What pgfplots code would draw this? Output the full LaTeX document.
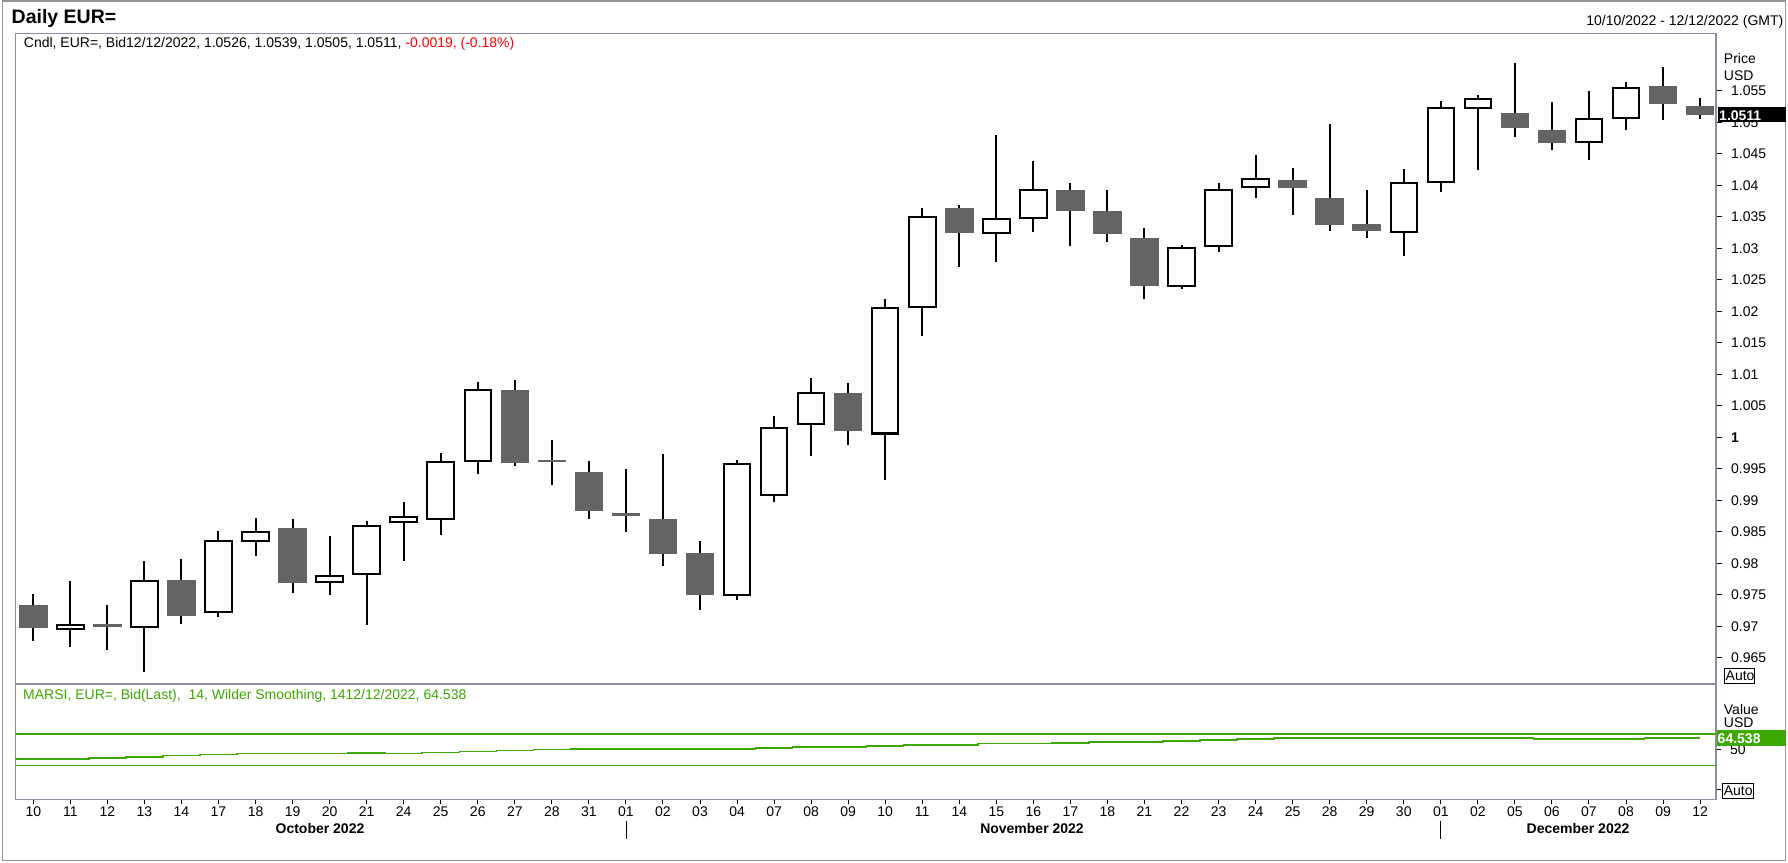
\documentclass[border=0pt]{standalone}
\usepackage{fontspec}
\setmainfont{Liberation Sans}
\usepackage{pgfplots}
\pgfplotsset{compat=1.18}
\usepackage{pgfplotstable}

\definecolor{panecol}{RGB}{140,140,160}
\definecolor{candlegray}{RGB}{100,100,100}
\definecolor{rsigreen}{RGB}{60,168,0}
\definecolor{framegray}{RGB}{150,150,150}

\pgfplotstableread{
i O H L C
1 0.9695 0.9771 0.9667 0.9702
3 0.9699 0.9803 0.9628 0.9771
5 0.9722 0.9852 0.9714 0.9836
6 0.9836 0.9872 0.9811 0.9850
8 0.9771 0.9843 0.9750 0.9780
9 0.9783 0.9867 0.9702 0.9859
10 0.9865 0.9897 0.9803 0.9874
11 0.9870 0.9975 0.9845 0.9961
12 0.9963 1.0088 0.9941 1.0075
19 0.9749 0.9964 0.9742 0.9957
20 0.9908 1.0033 0.9897 1.0015
21 1.0021 1.0094 0.9970 1.0070
23 1.0006 1.0220 0.9932 1.0205
24 1.0207 1.0364 1.0160 1.0350
26 1.0325 1.0479 1.0278 1.0346
27 1.0348 1.0439 1.0326 1.0392
31 1.0240 1.0305 1.0236 1.0301
32 1.0303 1.0404 1.0294 1.0393
33 1.0397 1.0448 1.0379 1.0410
37 1.0326 1.0426 1.0288 1.0404
38 1.0405 1.0534 1.0390 1.0522
39 1.0522 1.0544 1.0424 1.0537
42 1.0468 1.0550 1.0440 1.0505
43 1.0507 1.0564 1.0487 1.0555
}\upcandles

\pgfplotstableread{
i O H L C
0 0.9733 0.9751 0.9677 0.9697
2 0.9703 0.9733 0.9662 0.9700
4 0.9774 0.9807 0.9703 0.9717
7 0.9856 0.9870 0.9752 0.9769
13 1.0075 1.0091 0.9955 0.9959
14 0.9964 0.9995 0.9925 0.9961
15 0.9945 0.9963 0.9870 0.9883
16 0.9879 0.9950 0.9849 0.9876
17 0.9870 0.9973 0.9796 0.9814
18 0.9816 0.9836 0.9726 0.9749
22 1.0071 1.0086 0.9988 1.0010
25 1.0364 1.0368 1.0270 1.0325
28 1.0392 1.0404 1.0303 1.0359
29 1.0359 1.0393 1.0310 1.0323
30 1.0316 1.0332 1.0220 1.0240
34 1.0408 1.0428 1.0352 1.0395
35 1.0379 1.0497 1.0328 1.0337
36 1.0339 1.0393 1.0317 1.0328
40 1.0515 1.0594 1.0477 1.0490
41 1.0488 1.0532 1.0456 1.0467
44 1.0557 1.0587 1.0504 1.0529
45 1.0526 1.0539 1.0505 1.0511
}\downcandles

\pgfplotstableread{
x v
-0.5 38.5
0.5 38.5
1.5 39.7
2.5 41.0
3.5 42.6
4.5 43.9
5.5 45.1
6.5 45.1
7.5 45.1
8.5 46.0
9.5 45.1
10.5 46.4
11.5 47.7
12.5 48.9
13.5 50.2
14.5 51.2
15.5 51.2
16.5 51.2
17.5 51.2
18.5 51.2
19.5 52.3
20.5 53.6
21.5 53.6
22.5 54.6
23.5 56.1
24.5 56.1
25.5 57.8
26.5 57.8
27.5 58.6
28.5 59.9
29.5 59.9
30.5 61.0
31.5 62.5
32.5 63.7
33.5 65.0
34.5 65.0
35.5 65.0
36.5 65.0
37.5 65.0
38.5 65.0
39.5 65.0
40.5 63.7
41.5 63.7
42.5 63.7
43.5 64.9
44.5 64.538
45 64.538
}\rsidata

\pgfplotsset{
  candle/.style 2 args={draw=none, no markers, forget plot,
    /pgfplots/error bars/y dir=both,
    /pgfplots/error bars/y explicit,
    /pgfplots/error bars/error mark=none,
    /pgfplots/error bars/error bar style={draw=#1, line width=#2}},
}

\begin{document}
\begin{tikzpicture}[x=1pt,y=1pt,font=\fontsize{14}{16}\selectfont]
\path[use as bounding box] (0,0) rectangle (1788,862);
\fill[white] (0,0) rectangle (1788,862);
\draw[framegray, line width=1.5pt] (2.5,1.5) rectangle (1785.5,861);

% ---------- price pane ----------
\begin{axis}[
  at={(15.3pt,178pt)}, anchor=south west,
  scale only axis, width=1700.7pt, height=650.7pt,
  xmin=-0.486, xmax=45.43, ymin=0.96083, ymax=1.06411,
  axis line style={panecol, line width=1.5pt},
  xtick=\empty,
  ytick={0.965,0.97,0.975,0.98,0.985,0.99,0.995,1,1.005,1.01,1.015,1.02,1.025,1.03,1.035,1.04,1.045,1.05,1.055},
  yticklabels={0.965,0.97,0.975,0.98,0.985,0.99,0.995,\textbf{1},1.005,1.01,1.015,1.02,1.025,1.03,1.035,1.04,1.045,1.05,1.055},
  ytick pos=right, yticklabel pos=right,
  tick align=outside, major tick length=6pt,
  tick style={black, line width=1pt},
  yticklabel style={font=\fontsize{14}{16}\selectfont, anchor=west, inner sep=0pt, xshift=9pt},
]
% wicks
\addplot[candle={black}{2pt}]
  table[x=i, y expr={(\thisrow{H}+\thisrow{L})/2}, y error expr={(\thisrow{H}-\thisrow{L})/2}] {\upcandles};
\addplot[candle={black}{2pt}]
  table[x=i, y expr={(\thisrow{H}+\thisrow{L})/2}, y error expr={(\thisrow{H}-\thisrow{L})/2}] {\downcandles};
% down bodies
\addplot[candle={candlegray}{28.5pt}]
  table[x=i, y expr={(\thisrow{O}+\thisrow{C})/2}, y error expr={max(abs(\thisrow{O}-\thisrow{C})/2,0.0002)}] {\downcandles};
% up bodies: outline then white inside
\addplot[candle={black}{28.5pt}]
  table[x=i, y expr={(\thisrow{O}+\thisrow{C})/2}, y error expr={(\thisrow{C}-\thisrow{O})/2+0.00016}] {\upcandles};
\addplot[candle={white}{24.5pt}]
  table[x=i, y expr={(\thisrow{O}+\thisrow{C})/2}, y error expr={max((\thisrow{C}-\thisrow{O})/2-0.00016,0)}] {\upcandles};
\end{axis}

% ---------- RSI pane ----------
\begin{axis}[
  at={(15.3pt,62.5pt)}, anchor=south west,
  scale only axis, width=1700.7pt, height=115.8pt,
  xmin=-0.486, xmax=45.43, ymin=-12.9, ymax=133.5,
  axis line style={panecol, line width=1.5pt},
  xtick={0,...,45},
  xticklabels={10,11,12,13,14,17,18,19,20,21,24,25,26,27,28,31,01,02,03,04,07,08,09,10,11,14,15,16,17,18,21,22,23,24,25,28,29,30,01,02,05,06,07,08,09,12},
  xtick pos=bottom, xticklabel pos=bottom,
  ytick={0,50},
  yticklabels={,50},
  ytick pos=right, yticklabel pos=right,
  tick align=outside, major tick length=5pt,
  tick style={black, line width=1pt},
  yticklabel style={font=\fontsize{14}{16}\selectfont, anchor=west, inner sep=0pt, xshift=9pt},
  xticklabel style={font=\fontsize{14}{16}\selectfont, anchor=north, inner sep=0pt, yshift=-2pt},
]
\addplot[rsigreen, line width=1.5pt, forget plot] coordinates {(-0.486,70) (45.43,70)};
\addplot[rsigreen, line width=1.5pt, forget plot] coordinates {(-0.486,30) (45.43,30)};
\addplot[rsigreen, line width=1.5pt, const plot, forget plot] table[x=x, y=v] {\rsidata};
\end{axis}

% ---------- texts ----------
\node[anchor=base west, inner sep=0pt, font=\fontsize{19.5}{22}\selectfont\bfseries] at (11.5,838.7) {Daily EUR=};
\node[anchor=base east, inner sep=0pt] at (1783.5,836) {10/10/2022 - 12/12/2022 (GMT)};
\node[anchor=base west, inner sep=0pt] at (23.7,814.5) {Cndl, EUR=, Bid12/12/2022, 1.0526, 1.0539, 1.0505, 1.0511, \textcolor{red}{-0.0019, (-0.18\%)}};
\node[anchor=base west, inner sep=0pt, text=rsigreen] at (23,162) {MARSI, EUR=, Bid(Last),\ \ 14, Wilder Smoothing, 1412/12/2022, 64.538};

\node[anchor=base west, inner sep=0pt] at (1723.7,798.7) {Price};
\node[anchor=base west, inner sep=0pt] at (1723.7,781) {USD};
\fill[black] (1717.7,740) rectangle (1786,755.3);
\node[anchor=base west, inner sep=0pt, text=white, font=\fontsize{14}{16}\selectfont\bfseries] at (1719,741.5) {1.0511};
\draw[black, line width=1pt] (1724.4,178.7) rectangle (1754.5,193.7);
\node[anchor=base west, inner sep=0pt] at (1725.5,181) {Auto};

\node[anchor=base west, inner sep=0pt] at (1723.7,147) {Value};
\node[anchor=base west, inner sep=0pt] at (1723.7,134) {USD};
\fill[rsigreen] (1716.7,116.3) rectangle (1786,132);
\node[anchor=base west, inner sep=0pt, text=white, font=\fontsize{14}{16}\selectfont\bfseries] at (1717.5,118) {64.538};
\draw[black, line width=1pt] (1722.5,63.7) rectangle (1753,78.7);
\node[anchor=base west, inner sep=0pt] at (1723.6,66) {Auto};

\node[anchor=base, inner sep=0pt, font=\fontsize{14}{16}\selectfont\bfseries] at (320,29) {October 2022};
\node[anchor=base, inner sep=0pt, font=\fontsize{14}{16}\selectfont\bfseries] at (1032,29) {November 2022};
\node[anchor=base, inner sep=0pt, font=\fontsize{14}{16}\selectfont\bfseries] at (1578,29) {December 2022};
\draw[black, line width=1pt] (626,41.3) -- (626,23);
\draw[black, line width=1pt] (1440.8,41.3) -- (1440.8,23);
\end{tikzpicture}
\end{document}
